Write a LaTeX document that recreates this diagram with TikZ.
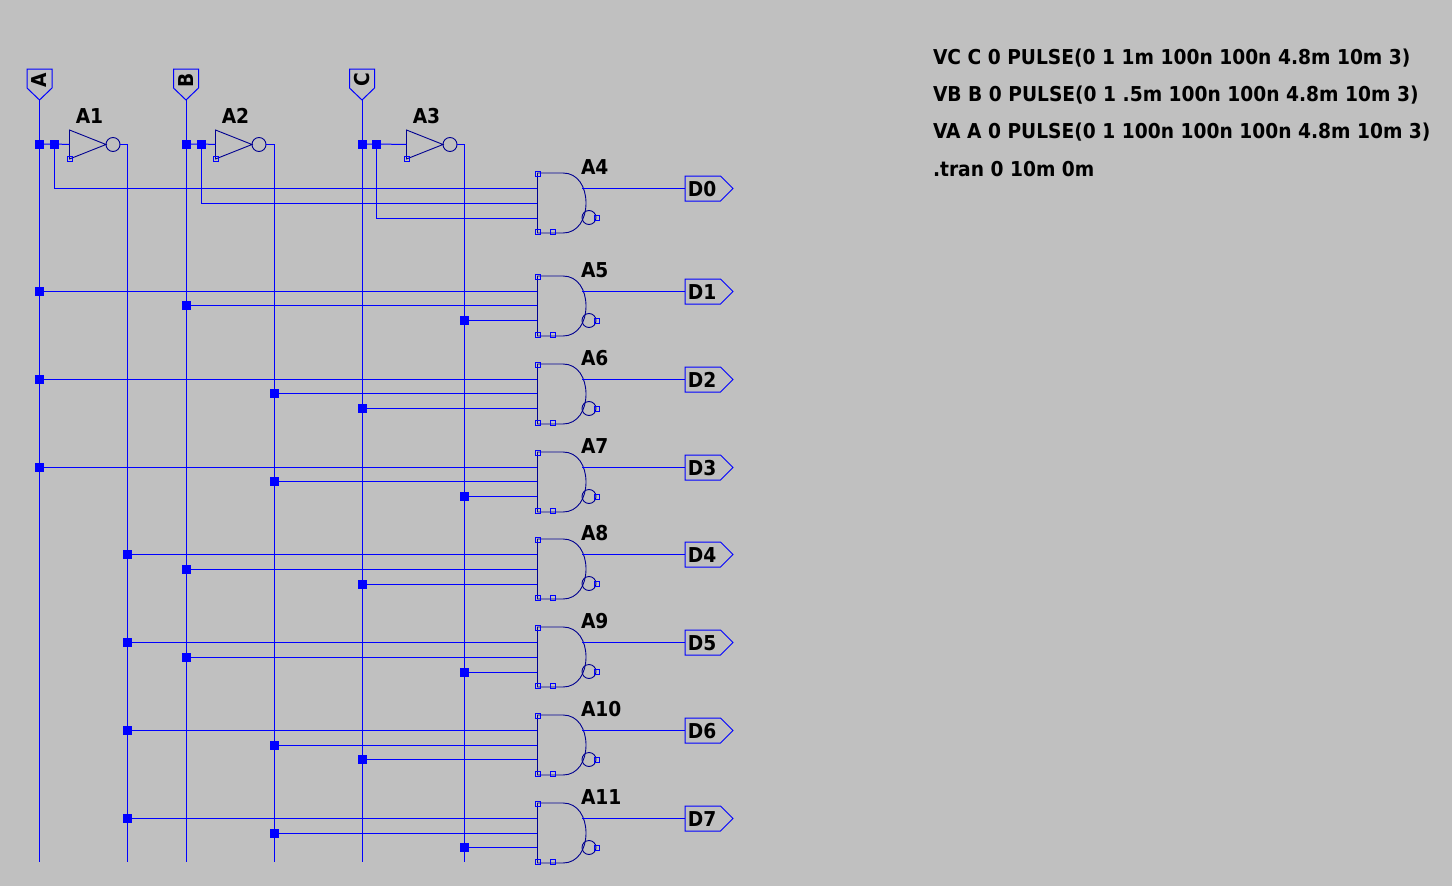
\documentclass[tikz,border=0pt]{standalone}
\usepackage{fontspec}
\usetikzlibrary{calc}
\newfontfamily\labfont[FakeStretch=0.91]{DejaVu Sans Bold}
\definecolor{bg}{HTML}{C0C0C0}
\definecolor{wirec}{HTML}{0000FF}
\definecolor{symc}{HTML}{000090}
\tikzset{
 x=1pt,y=-1pt,
 wire/.style={draw=wirec,line width=1pt},
 sym/.style={draw=symc,line width=0.9pt},
 jun/.style={rectangle,fill=wirec,minimum size=9pt,inner sep=0pt,outer sep=0pt},
 pin/.style={rectangle,draw=wirec,line width=0.8pt,minimum size=5pt,inner sep=0pt,outer sep=0pt},
 lab/.style={font=\labfont\fontsize{20.5}{22}\selectfont,text=black,inner sep=0pt,outer sep=0pt,anchor=center},
 dirtext/.style={lab,anchor=west},
}
\begin{document}
\begin{tikzpicture}
\useasboundingbox[fill=bg] (0,0) rectangle (1452,886);
% rails
\foreach \n/\x in {ra/39.5,rna/127.5,rb/186,rnb/274,rc/362,rnc/464}{\coordinate (\n) at (\x,862);}
% input flags
\foreach \n/\x/\t in {fa/39.5/A,fb/186/B,fc/362/C}{
 \node[lab,rotate=90] (\n) at (\x,80) {\t};
 \coordinate (\n tip) at (\x,100);
 \draw[wire] (\x-12.5,69)--(\x+12.5,69)--(\x+12.5,88)--(\x,100)--(\x-12.5,88)--cycle;
}
% inverters
\foreach \n/\x/\t/\lx/\rail in {A1/69.5/A1/89.5/rna,A2/215.5/A2/235.5/rnb,A3/406.5/A3/426.5/rnc}{
 \node[lab] at (\lx,116) {\t};
 \draw[sym] (\x,130)--(\x,159)--(\x+36.5,144.5)--cycle;
 \draw[sym] (\x+43.5,144.5) circle[radius=7];
 \node[pin] at (\x,159) {};
 \coordinate (\n in) at (\x,144.5);
 \coordinate (\n out) at (\x+50.5,144.5);
 \coordinate (\n cor) at (\rail|-\n out);
 \draw[wire] (\n out)--(\n cor)--(\rail);
}
% input junctions
\node[jun] (ja) at (39.5,144) {};
\node[jun] (jb) at (186,144) {};
\node[jun] (jc) at (362,144) {};
\node[jun] (ka) at (54.5,144) {};
\node[jun] (kb) at (201.5,144) {};
\node[jun] (kc) at (376.5,144) {};
\draw[wire] (fatip)--(ra);
\draw[wire] (fbtip)--(rb);
\draw[wire] (fctip)--(rc);
\draw[wire] (ja)--(ka)--(A1in);
\draw[wire] (jb)--(kb)--(A2in);
\draw[wire] (jc)--(kc)--(A3in);
% gates
\foreach \n/\y/\p/\q/\t in {4/188/15/30/A4,5/291/14/29/A5,6/379/14/29/A6,7/467/14/29/A7,8/554/15/30/A8,9/642/15/30/A9,10/730/15/29/A10,11/818/15/29/A11}{
 \coordinate (g\n a) at (537,\y);
 \coordinate (g\n b) at (537,\y+\p);
 \coordinate (g\n c) at (537,\y+\q);
 \coordinate (g\n o) at (582,\y);
 \coordinate (g\n q) at (685,\y);
 \node[lab,anchor=west] at (581,\y-20.5) {\t};
 \draw[sym] (537.5,\y-15)--(537.5,\y+45)--(563,\y+45)
   .. controls (578,\y+45) and (586,\y+31) .. (586,\y+15)
   .. controls (586,\y-1) and (578,\y-15) .. (563,\y-15)--cycle;
 \draw[sym] (589,\y+29.5) circle[radius=7];
 \node[pin] at (538,\y-14) {};
 \node[pin] at (538,\y+44) {};
 \node[pin] at (552.5,\y+44) {};
 \node[pin] at (597,\y+29.5) {};
}
% A4 wires from inverter inputs
\foreach \k/\g in {ka/g4a,kb/g4b,kc/g4c}{\draw[wire] (\k)|-(\g);}
% product term wires with junctions
\foreach \n/\r/\t in {
 m1/ra/g5a,m2/rb/g5b,m3/rnc/g5c,
 m4/ra/g6a,m5/rnb/g6b,m6/rc/g6c,
 m7/ra/g7a,m8/rnb/g7b,m9/rnc/g7c,
 m10/rna/g8a,m11/rb/g8b,m12/rc/g8c,
 m13/rna/g9a,m14/rb/g9b,m15/rnc/g9c,
 m16/rna/g10a,m17/rnb/g10b,m18/rc/g10c,
 m19/rna/g11a,m20/rnb/g11b,m21/rnc/g11c}{
 \node[jun] (\n) at (\r|-\t) {};
 \draw[wire] (\n)--(\t);
}
% outputs
\foreach \n/\t in {4/D0,5/D1,6/D2,7/D3,8/D4,9/D5,10/D6,11/D7}{
 \draw[wire] (g\n o)--(g\n q);
 \draw[wire] ($(g\n q)+(0,-12)$) -- ++(35.5,0) -- ++(12.5,12.5) -- ++(-12.5,12.5) -- ++(-35.5,0) -- cycle;
 \node[lab] (o\n) at ($(g\n q)+(17,1.3)$) {\t};
}
% directives
\node[dirtext] (d1) at (933,57.8) {VC C 0 PULSE(0 1 1m 100n 100n 4.8m 10m 3)};
\node[dirtext] (d2) at (933,94.8) {VB B 0 PULSE(0 1 .5m 100n 100n 4.8m 10m 3)};
\node[dirtext] (d3) at (933,131.8) {VA A 0 PULSE(0 1 100n 100n 100n 4.8m 10m 3)};
\node[dirtext] (d4) at (933,168.8) {.tran 0 10m 0m};
\end{tikzpicture}
\end{document}
